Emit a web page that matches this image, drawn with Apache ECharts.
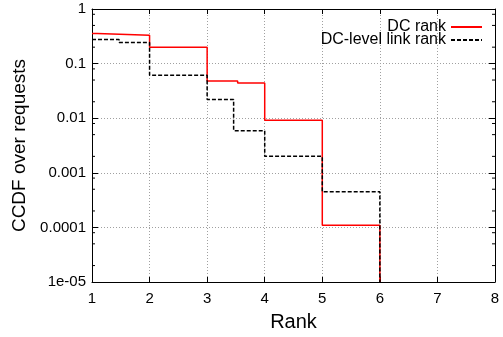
<!DOCTYPE html>
<html>
<head>
<meta charset="utf-8">
<script src="https://cdn.jsdelivr.net/npm/echarts@6/dist/echarts.min.js"></script>
<style>
html,body{margin:0;padding:0;background:#fff;}
#main{width:503px;height:337px;}
</style>
</head>
<body>
<div id="main"></div>
<script>
// Data
var dcRankX = [1, 1.09, 2, 3, 3.53, 4, 5, 6];
var dcRankY = [0.355, 0.33, 0.2, 0.048, 0.044, 0.0092, 0.00011, 1e-5];
var linkRankX = [1, 1.47, 2, 3, 3.46, 4, 5, 6];
var linkRankY = [0.277, 0.243, 0.061, 0.022, 0.0059, 0.002, 0.00045, 1e-5];
var xTicks = [1, 2, 3, 4, 5, 6, 7, 8];
var yTickLabels = ['1e-05', '0.0001', '0.001', '0.01', '0.1', '1'];
var minorFactors = [2, 5, 8];
var seriesNames = ['DC rank', 'DC-level link rank'];

function pairs(xs, ys) { return xs.map(function (x, i) { return [x, ys[i]]; }); }

var minorVals = [];
for (var e = -5; e < 0; e++) {
  minorFactors.forEach(function (f) { minorVals.push([f * Math.pow(10, e)]); });
}

var FONT = 'Liberation Sans, Arial, Helvetica, sans-serif';
var chart = echarts.init(document.getElementById('main'), null, {renderer: 'canvas'});

var gridLine = {show: true, lineStyle: {color: '#a0a0a0', type: [1, 2], width: 1}};

function legendFor(name, top) {
  return {
    orient: 'vertical', align: 'right', right: 15, top: top,
    itemWidth: 31, itemHeight: 12, itemGap: 0,
    itemStyle: {opacity: 0},
    textStyle: {fontFamily: FONT, fontSize: 16, color: '#000', lineHeight: 16},
    data: [name]
  };
}

chart.setOption({
  animation: false,
  backgroundColor: '#fff',
  grid: {left: 92, right: 8, top: 9, bottom: 46, containLabel: false},
  legend: [legendFor(seriesNames[0], 14), legendFor(seriesNames[1], 27)],
  xAxis: [{
    type: 'value', min: 1, max: 8, interval: 1,
    name: 'Rank', nameLocation: 'middle', nameGap: 30,
    nameTextStyle: {fontFamily: FONT, fontSize: 20, color: '#000'},
    axisLine: {show: true, onZero: false, lineStyle: {color: '#000', width: 1}},
    axisTick: {show: true, inside: true, length: 5, lineStyle: {color: '#000'}},
    axisLabel: {fontFamily: FONT, fontSize: 15, color: '#000', margin: 9,
      formatter: function (v) { return xTicks.indexOf(v) >= 0 ? String(v) : ''; }},
    splitLine: gridLine
  }, {
    type: 'value', min: 1, max: 8, interval: 1, position: 'top',
    axisLine: {show: true, onZero: false, lineStyle: {color: '#000', width: 1}},
    axisTick: {show: true, inside: true, length: 5, lineStyle: {color: '#000'}},
    axisLabel: {show: false}, splitLine: {show: false}
  }],
  yAxis: [{
    type: 'log', logBase: 10, min: 1e-5, max: 1,
    name: 'CCDF over requests', nameLocation: 'middle', nameGap: 53, nameRotate: 90,
    nameTextStyle: {fontFamily: FONT, fontSize: 19, color: '#000'},
    axisLine: {show: true, onZero: false, lineStyle: {color: '#000', width: 1}},
    axisTick: {show: true, inside: true, length: 6, lineStyle: {color: '#000'}},
    axisLabel: {fontFamily: FONT, fontSize: 15, color: '#000', margin: 6,
      formatter: function (v) {
        var k = Math.round(Math.log10(v)) + 5;
        return yTickLabels[k] !== undefined ? yTickLabels[k] : '';
      }},
    splitLine: gridLine
  }, {
    type: 'log', logBase: 10, min: 1e-5, max: 1, position: 'right',
    axisLine: {show: true, onZero: false, lineStyle: {color: '#000', width: 1}},
    axisTick: {show: true, inside: true, length: 6, lineStyle: {color: '#000'}},
    axisLabel: {show: false}, splitLine: {show: false}
  }],
  series: [{
    name: seriesNames[0], type: 'line', step: 'end', symbol: 'none',
    xAxisIndex: 0, yAxisIndex: 0,
    data: pairs(dcRankX, dcRankY),
    lineStyle: {color: '#ff0000', width: 1.5}, itemStyle: {color: '#ff0000'},
    z: 3
  }, {
    name: seriesNames[1], type: 'line', step: 'end', symbol: 'none',
    xAxisIndex: 0, yAxisIndex: 0,
    data: pairs(linkRankX, linkRankY),
    lineStyle: {color: '#000', width: 1.5, type: [4, 2]}, itemStyle: {color: '#000'},
    z: 4
  }, {
    type: 'custom', xAxisIndex: 0, yAxisIndex: 0, silent: true,
    data: minorVals,
    renderItem: function (params, api) {
      var v = api.value(0);
      var l = api.coord([1, v]);
      var r = api.coord([8, v]);
      return {type: 'group', children: [
        {type: 'line', shape: {x1: l[0], y1: l[1], x2: l[0] + 3, y2: l[1]}, style: {stroke: '#000', lineWidth: 1}},
        {type: 'line', shape: {x1: r[0], y1: r[1], x2: r[0] - 3, y2: r[1]}, style: {stroke: '#000', lineWidth: 1}}
      ]};
    },
    z: 5
  }]
});
</script>
</body>
</html>
